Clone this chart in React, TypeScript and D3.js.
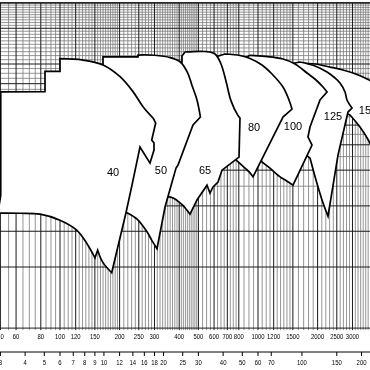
import React from 'react';
import * as d3 from 'd3';

// Flow Q (L/min) upper axis, m3/h lower axis, head H (m)
const qTicks = [50, 60, 80, 100, 120, 150, 200, 250, 300, 400, 500, 600, 700, 800, 1000, 1200, 1500, 2000, 2500, 3000];
const m3Ticks = [3, 4, 5, 6, 7, 8, 9, 10, 12, 14, 16, 18, 20, 25, 30, 40, 50, 60, 70, 100, 150, 200];
const hMajor = [5, 10, 15, 20, 30, 40, 50, 60, 80, 100, 150, 200];

// Pump envelopes [Q L/min, H m]: edges (straight) and curves (smooth)
const s32Edge = [[39, 72.8], [50.2, 72.8], [50.2, 22.6], [48.6, 18.5], [39, 18.5]];

const s40Left = [[44.3, 18.4], [44.3, 72.8], [84.0, 73.1], [84.0, 91.9], [100, 91.9], [100, 106.2]];
const s40Top = [[100, 106.2], [130.7, 104.6], [164.9, 98.9], [201, 86.6], [233.7, 73.1], [262.6, 61.6], [296, 54.0]];
const s40Edge = [[296, 54.0], [304.3, 51.2], [290.5, 42.2], [298.4, 40.8], [298.4, 37.7], [284.8, 32.5], [253.5, 39.0], [231, 25.3], [215.4, 18.5], [182.4, 9.37]];
const s40Bottom = [[182.4, 9.37], [164, 10.6], [155, 12.1]];
const s40Bottom2 = [[150.2, 11.1], [136.4, 13.1], [121.4, 15.2], [100, 17.0], [79.3, 18.2], [62.8, 18.4], [44.3, 18.4]];

const s50Left = [[178.8, 19.5], [164.9, 20.2], [164.9, 108.3], [247.7, 108.3], [247.7, 110.7]];
const s50Top = [[247.7, 110.7], [300, 110.4], [360, 107.5], [405, 102.3], [440, 91], [465, 78], [491.9, 66.5], [512, 54.8]];
const s50Edge = [[512, 54.8], [469.6, 50.1], [394.5, 31.8], [385.4, 30.7], [339.2, 19.75], [309, 12.3]];
const s50Bottom = [[309, 12.3], [290, 13.6], [275, 14.9], [245, 17.2], [218, 18.5]];

const s65Left = [[331.3, 19.5], [312.6, 21.4], [367.9, 59.3], [413.2, 102.3], [413.2, 109.5], [427.9, 114.6]];
const s65Top = [[427.9, 114.6], [540, 115.2], [606.6, 112.0], [650.3, 100], [690, 82], [730, 66], [790, 56], [811, 54.2]];
const s65Edge = [[811, 54.2], [801.8, 34.8], [657.9, 30.0], [628.1, 26.2], [592.6, 24.8], [572.3, 23.1], [552.6, 25.3], [491.9, 21.4], [453.6, 18.2]];
const s65Bottom = [[453.6, 18.2], [420, 20.0], [403.6, 20.7], [375, 21.8], [351.1, 22.1], [331.3, 19.5]];

const s80Left = [[774.3, 33.7], [681.3, 42.2], [585.7, 107.1], [681.3, 112.0]];
const s80Top = [[681.3, 112.0], [811, 110.1], [911.4, 106.4], [1047, 98.9], [1177, 89.3], [1337, 77.0], [1434, 66.5], [1485, 60.0]];
const s80Edge = [[1485, 60.0], [1337, 54.8], [943.5, 27.8]];
const s80Bottom = [[943.5, 27.8], [900, 29.5], [859.7, 30.7], [774.3, 33.7]];

const s100Left = [[1150, 30.7], [1047, 32.9], [965.6, 42.2], [859.7, 107.1], [911.4, 110.3]];
const s100Top = [[911.4, 110.3], [1085, 109.0], [1337, 105.8], [1538, 100], [1768, 90.3], [1963, 83.4], [2130, 77.0], [2231, 72.8]];
const s100Edge = [[2231, 72.8], [2057, 66.5], [1831, 48.9], [1788, 43.7], [1874, 39.9], [1502, 25.3]];
const s100Bottom = [[1502, 25.3], [1390, 26.6], [1292, 27.8], [1150, 30.7]];

const s125Left = [[1831, 34.4], [1630, 37.7], [1451, 100], [1630, 102.3]];
const s125Top = [[1630, 102.3], [1941, 97.7], [2231, 91.3], [2449, 85.3], [2595, 80.6], [2751, 72.8], [2815, 66.5], [2984, 60.7]];
const s125Edge = [[2984, 60.7], [2848, 58.0], [2535, 35.6], [2257, 17.8]];
const s125Bottom = [[2257, 17.8], [2105, 21.4], [1963, 26.8], [1831, 34.4]];

const s150Left = [[2915, 56.1], [2751, 57.4], [2311, 59.3], [1630, 101.1]];
const s150Top = [[1630, 101.1], [1941, 100], [2311, 96.6], [2688, 93.4], [3162, 88.8], [3679, 82.9], [4379, 76.1]];
const s150Edge = [[4379, 76.1], [4919, 59.3], [4919, 21.4], [4130, 31.8]];
const s150Bottom = [[4130, 31.8], [3679, 40.8], [3275, 48.9], [2915, 56.1]];

type Seg = { pts: number[][]; smooth: boolean };
const sizeNames = ['150', '125', '100', '80', '65', '50', '40', '32'];
const sizeShapes: Seg[][] = [
  [{ pts: s150Left, smooth: false }, { pts: s150Top, smooth: true }, { pts: s150Edge, smooth: false }, { pts: s150Bottom, smooth: true }],
  [{ pts: s125Left, smooth: false }, { pts: s125Top, smooth: true }, { pts: s125Edge, smooth: false }, { pts: s125Bottom, smooth: true }],
  [{ pts: s100Left, smooth: false }, { pts: s100Top, smooth: true }, { pts: s100Edge, smooth: false }, { pts: s100Bottom, smooth: true }],
  [{ pts: s80Left, smooth: false }, { pts: s80Top, smooth: true }, { pts: s80Edge, smooth: false }, { pts: s80Bottom, smooth: true }],
  [{ pts: s65Left, smooth: false }, { pts: s65Top, smooth: true }, { pts: s65Edge, smooth: false }, { pts: s65Bottom, smooth: true }],
  [{ pts: s50Left, smooth: false }, { pts: s50Top, smooth: true }, { pts: s50Edge, smooth: false }, { pts: s50Bottom, smooth: true }],
  [{ pts: s40Left, smooth: false }, { pts: s40Top, smooth: true }, { pts: s40Edge, smooth: false }, { pts: s40Bottom, smooth: true }, { pts: s40Bottom2, smooth: true }],
  [{ pts: s32Edge, smooth: false }],
];
const labelNames = ['40', '50', '65', '80', '100', '125', '150'];
const labelQ = [185.3, 323.6, 540, 954.6, 1502, 2392, 3594];
const labelH = [29.4, 30.0, 30.0, 48.9, 49.5, 55.4, 59.3];

const W = 370;
const x = d3.scaleLog().domain([100, 1000]).range([60, 258]);
const y = d3.scaleLog().domain([10, 100]).range([267, 64]);
const xM3 = (v: number) => x(v / 0.06);

function minorQ(): number[] {
  const out: number[] = [];
  for (let v = 55; v < 200; v += 5) out.push(v);
  for (let v = 210; v < 500; v += 10) out.push(v);
  for (let v = 525; v < 800; v += 25) out.push(v);
  for (let v = 850; v < 1500; v += 50) out.push(v);
  for (let v = 1600; v < 4000; v += 100) out.push(v);
  return out.filter((v) => !qTicks.includes(v));
}
function minorH(): number[] {
  const out: number[] = [];
  for (let v = 10; v <= 200; v += 5) out.push(v);
  return out.filter((v) => !hMajor.includes(v));
}

const smoothLine = d3.line<number[]>().x((d) => x(d[0])).y((d) => y(d[1])).curve(d3.curveCatmullRom.alpha(0.5));
const straightLine = d3.line<number[]>().x((d) => x(d[0])).y((d) => y(d[1]));

function shapePath(segs: Seg[]): string {
  let d = '';
  segs.forEach((s, i) => {
    const part = (s.smooth ? smoothLine(s.pts) : straightLine(s.pts)) || '';
    d += i === 0 ? part : 'L' + part.slice(1);
  });
  return d + 'Z';
}

export default function App() {
  const yTop = y(200);
  const yBot = y(5);
  const font = "'Liberation Sans', Arial, sans-serif";
  const tl = (v: number) => String(v).length * 3.3;
  return (
    <svg width={W} height={370} style={{ position: 'absolute', left: 0, top: 0, background: '#fff', filter: 'grayscale(1)' }}>
      <rect x={0} y={0} width={W} height={370} fill="#fff" />
      <g>
        {minorQ().map((v) => (
          <line key={'mq' + v} x1={x(v)} x2={x(v)} y1={yTop} y2={yBot + 2} stroke="#7a7a7a" strokeWidth={0.8} />
        ))}
        {minorH().map((v) => (
          <line key={'mh' + v} x1={0} x2={W} y1={y(v)} y2={y(v)} stroke="#7a7a7a" strokeWidth={0.8} />
        ))}
        {qTicks.map((v) => (
          <line key={'Mq' + v} x1={x(v)} x2={x(v)} y1={yTop} y2={yBot + 2} stroke="#1a1a1a" strokeWidth={1} />
        ))}
        {hMajor.map((v) => (
          <line key={'Mh' + v} x1={0} x2={W} y1={y(v)} y2={y(v)} stroke="#1a1a1a" strokeWidth={1} />
        ))}
        <line x1={0} x2={W} y1={yTop} y2={yTop} stroke="#111" strokeWidth={1.2} />
      </g>
      <g>
        {sizeShapes.map((s, i) => (
          <path key={sizeNames[i]} d={shapePath(s)} fill="#fff" stroke="#000" strokeWidth={1.7} strokeLinejoin="miter" />
        ))}
      </g>
      <g fontFamily={font} fontSize={11} textAnchor="middle" fill="#000">
        {labelNames.map((n, i) => (
          <text key={n} x={x(labelQ[i])} y={y(labelH[i])} dominantBaseline="central">{n}</text>
        ))}
      </g>
      <g fontFamily={font} fontSize={7.5} textAnchor="middle">
        {qTicks.map((v) => (
          <text key={'tq' + v} x={x(v)} y={339} textLength={tl(v)} lengthAdjust="spacingAndGlyphs">{v}</text>
        ))}
      </g>
      <line x1={0} x2={W} y1={352} y2={352} stroke="#000" strokeWidth={1} />
      <g fontFamily={font} fontSize={7.5} textAnchor="middle">
        {m3Ticks.map((v) => (
          <g key={'tm' + v}>
            <line x1={xM3(v)} x2={xM3(v)} y1={352} y2={356} stroke="#000" strokeWidth={1} />
            <text x={xM3(v)} y={364.5} textLength={tl(v)} lengthAdjust="spacingAndGlyphs">{v}</text>
          </g>
        ))}
      </g>
    </svg>
  );
}
